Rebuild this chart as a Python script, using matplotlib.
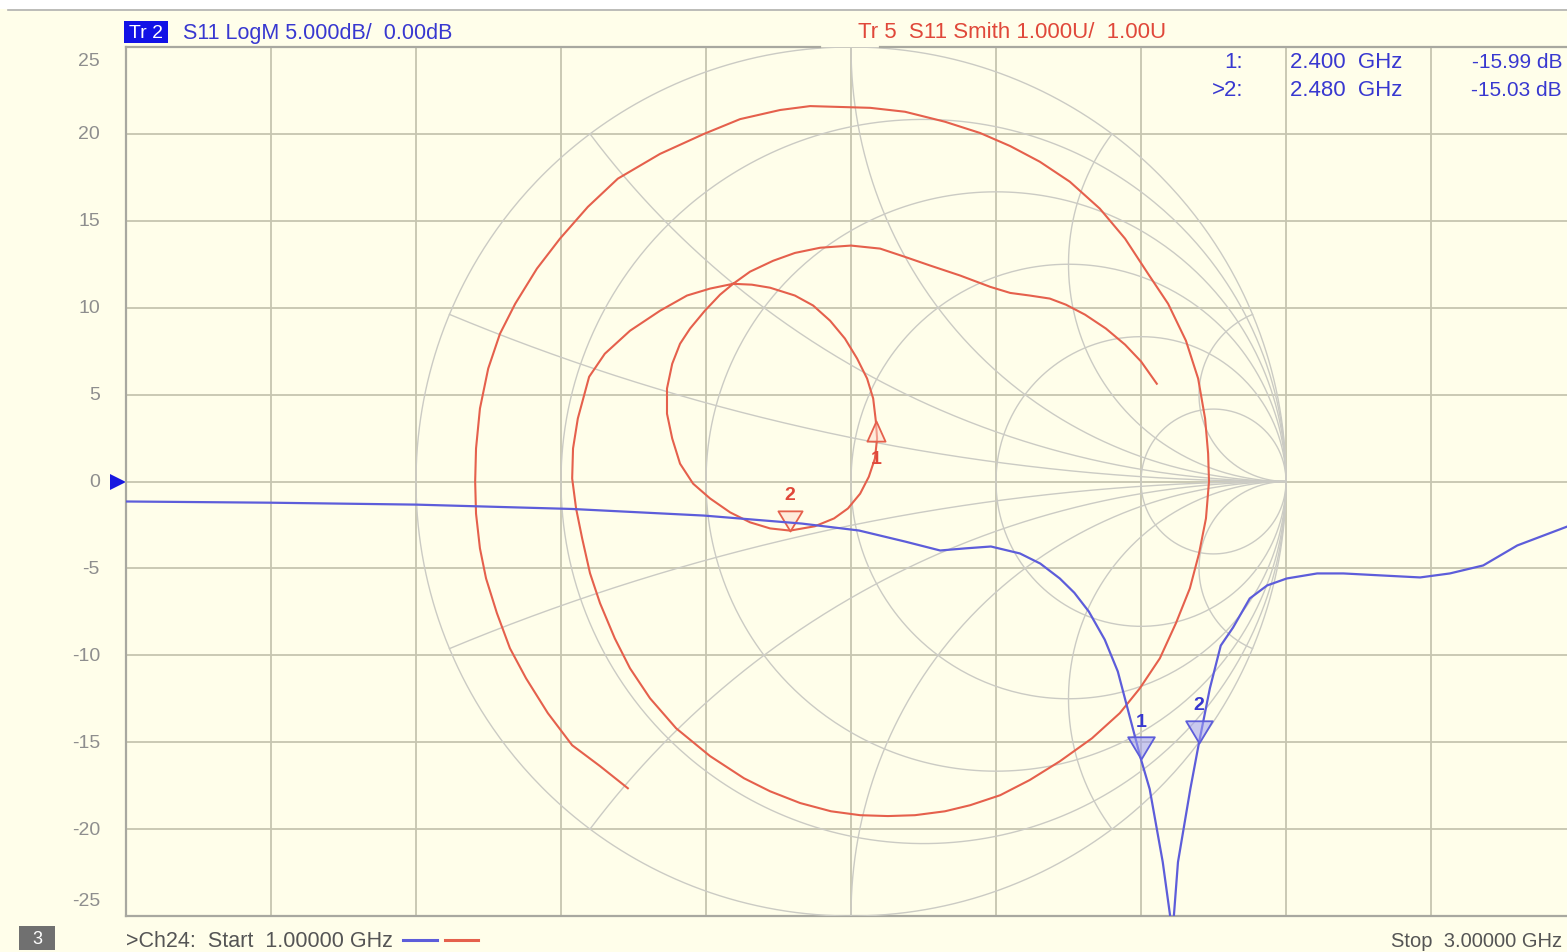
import numpy as np
import matplotlib
matplotlib.use("Agg")
import matplotlib.pyplot as plt
import matplotlib.transforms as mtrans
from matplotlib.path import Path
from matplotlib.lines import Line2D
from matplotlib.patches import Rectangle

# ---------------- data ----------------
freq_ghz = [1.000, 1.200, 1.400, 1.615, 1.797, 1.932, 2.011, 2.074, 2.123, 2.157,
            2.193, 2.233, 2.261, 2.288, 2.308, 2.328, 2.350, 2.368, 2.400, 2.412,
            2.430, 2.4435, 2.451, 2.468, 2.480, 2.495, 2.510, 2.527, 2.550, 2.574,
            2.601, 2.643, 2.679, 2.734, 2.785, 2.826, 2.872, 2.919, 2.988, 3.000]
s11_db = [-1.15, -1.22, -1.33, -1.58, -1.96, -2.42, -2.82, -3.45, -3.97, -3.85,
          -3.74, -4.14, -4.72, -5.58, -6.40, -7.48, -9.10, -10.93, -15.99, -17.7,
          -21.9, -26.0, -21.9, -17.7, -15.03, -11.9, -9.44, -8.4, -6.73, -5.98,
          -5.58, -5.29, -5.29, -5.41, -5.52, -5.29, -4.83, -3.68, -2.59, -2.42]

smith_re = [-0.513, -0.577, -0.641, -0.697, -0.747, -0.784, -0.814, -0.839, -0.853, -0.862,
            -0.864, -0.862, -0.853, -0.834, -0.807, -0.772, -0.722, -0.669, -0.605, -0.536,
            -0.439, -0.338, -0.255, -0.163, -0.094, -0.025, 0.044, 0.124, 0.216, 0.297,
            0.366, 0.434, 0.503, 0.572, 0.630, 0.683, 0.729, 0.770, 0.798, 0.814,
            0.821, 0.823, 0.816, 0.800, 0.779, 0.747, 0.710, 0.664, 0.618, 0.554,
            0.480, 0.411, 0.343, 0.274, 0.216, 0.147, 0.085, 0.021, -0.046, -0.117,
            -0.186, -0.246, -0.324, -0.402, -0.462, -0.508, -0.543, -0.577, -0.600, -0.618,
            -0.632, -0.641, -0.639, -0.628, -0.602, -0.566, -0.508, -0.439, -0.377, -0.324,
            -0.271, -0.228, -0.186, -0.129, -0.087, -0.048, -0.014, 0.014, 0.037, 0.051,
            0.057, 0.060, 0.055, 0.041, 0.021, -0.007, -0.039, -0.083, -0.140, -0.186,
            -0.232, -0.278, -0.324, -0.363, -0.393, -0.411, -0.423, -0.423, -0.411, -0.393,
            -0.370, -0.336, -0.301, -0.271, -0.232, -0.179, -0.129, -0.071, 0.000, 0.067,
            0.124, 0.182, 0.251, 0.320, 0.366, 0.411, 0.457, 0.494, 0.538, 0.586,
            0.630, 0.667, 0.703]
smith_im = [-0.706, -0.655, -0.607, -0.533, -0.453, -0.384, -0.303, -0.223, -0.154, -0.074,
            0.000, 0.076, 0.168, 0.260, 0.340, 0.409, 0.490, 0.559, 0.632, 0.697,
            0.754, 0.800, 0.834, 0.855, 0.864, 0.862, 0.860, 0.851, 0.828, 0.802,
            0.772, 0.736, 0.690, 0.628, 0.559, 0.478, 0.409, 0.324, 0.237, 0.145,
            0.064, 0.000, -0.085, -0.166, -0.246, -0.326, -0.407, -0.476, -0.533, -0.591,
            -0.644, -0.687, -0.722, -0.745, -0.759, -0.768, -0.770, -0.768, -0.759, -0.740,
            -0.713, -0.683, -0.632, -0.568, -0.499, -0.430, -0.361, -0.280, -0.211, -0.131,
            -0.062, 0.007, 0.076, 0.145, 0.241, 0.294, 0.347, 0.393, 0.428, 0.444,
            0.455, 0.453, 0.446, 0.428, 0.405, 0.370, 0.329, 0.283, 0.237, 0.191,
            0.140, 0.099, 0.053, 0.011, -0.028, -0.062, -0.085, -0.103, -0.113, -0.108,
            -0.094, -0.071, -0.039, -0.005, 0.041, 0.099, 0.156, 0.214, 0.271, 0.317,
            0.352, 0.393, 0.430, 0.455, 0.483, 0.508, 0.526, 0.538, 0.543, 0.536,
            0.517, 0.497, 0.474, 0.448, 0.434, 0.428, 0.421, 0.407, 0.384, 0.352,
            0.315, 0.276, 0.225]

marker_ids = ["1", "2"]
marker_freq = [2.400, 2.480]
marker_db = [-15.99, -15.03]
marker_freq_text = ["2.400  GHz", "2.480  GHz"]
marker_val_text = ["-15.99 dB", "-15.03 dB"]
marker_smith_re = [0.057, -0.140]
marker_smith_im = [0.140, -0.113]

y_ticks = [25, 20, 15, 10, 5, 0, -5, -10, -15, -20, -25]
f_start, f_stop = 1.0, 3.0
db_top, db_bottom = 25, -25

smith_r = [0, 0.2, 0.5, 1, 2, 5]
smith_x = [0.2, 0.5, 1, 2, 5]

# ---------------- style ----------------
W, H = 1567, 953
BG = "#fffeea"
GRID = "#c6c5b0"
SGRID = "#cbcbc4"
BLUE = "#5d5dda"
RED = "#e5604c"
TXTBLUE = "#3838d0"
TXTRED = "#e0483a"
GRAYTXT = "#8e8e8e"
FONT = ["Liberation Sans", "DejaVu Sans"]
plt.rcParams["font.family"] = FONT

fig = plt.figure(figsize=(W / 100, H / 100), dpi=100)
fig.patch.set_facecolor(BG)


def pos(x0, y0, x1, y1):
    return [x0 / W, 1 - y1 / H, (x1 - x0) / W, (y1 - y0) / H]


def ft(x, y, s, **kw):
    kw.setdefault("va", "center")
    return fig.text(x / W, 1 - y / H, s, **kw)


def fline(x0, y0, x1, y1, **kw):
    fig.add_artist(Line2D([x0 / W, x1 / W], [1 - y0 / H, 1 - y1 / H],
                          transform=fig.transFigure, **kw))


# white strip at very top
fig.add_artist(Rectangle((0, 1 - 10 / H), 1, 10 / H, transform=fig.transFigure,
                         facecolor="white", edgecolor="none"))
fline(8, 10.5, W, 10.5, color="#b0b0b0", lw=1.2)

# ---------------- rectangular (LogM) axes ----------------
ax = fig.add_axes(pos(126, 48, 1576, 917))
ax.set_facecolor(BG)
ax.set_xlim(f_start, f_stop)
ax.set_ylim(db_bottom, db_top)
ax.set_xticks(np.linspace(f_start, f_stop, 11))
ax.set_yticks(y_ticks)
ax.tick_params(length=0, labelbottom=False, labelleft=False)
ax.grid(True, color=GRID, lw=1.3)
ax.set_axisbelow(True)
for s in ["top", "right"]:
    ax.spines[s].set_visible(False)
for s in ["left", "bottom"]:
    ax.spines[s].set_color("#a8a8a0")
    ax.spines[s].set_linewidth(1.6)

# top header separator (with small gap above the Smith chart top)
fline(126, 48, 820, 48, color="#a8a8a0", lw=1.6)
fline(880, 48, W, 48, color="#a8a8a0", lw=1.6)

# y tick labels (the end labels sit inside the frame, as on the instrument)
ytr = ax.get_yaxis_transform()
for v in y_ticks:
    yy = v
    if v == db_top:
        yy = v - 0.8
    elif v == db_bottom:
        yy = v + 0.9
    ax.text(-0.018, yy, f"{v}", transform=ytr, ha="right", va="center",
            fontsize=14, color=GRAYTXT, clip_on=False)

# reference level arrow
ref, = ax.plot([f_start], [0], marker=">", ms=11, color="#1818e0", clip_on=False,
               markeredgewidth=0)
ref.set_transform(ax.transData + mtrans.ScaledTranslation(-8 / 100, 0, fig.dpi_scale_trans))

# ---------------- Smith overlay ----------------
ax2 = fig.add_axes(pos(126, 48, 1576, 917))
ax2.set_xlim(-1450 / 870, 1450 / 870)
ax2.set_ylim(-1, 1)
ax2.patch.set_alpha(0)
ax2.axis("off")


def gam(z):
    return (z - 1) / (z + 1)


xs = np.concatenate([-np.logspace(3, -3, 600), [0], np.logspace(-3, 3, 600)])
for r in smith_r:
    g = gam(r + 1j * xs)
    ax2.plot(g.real, g.imag, color=SGRID, lw=1.0, zorder=1)
rs = np.concatenate([[0], np.logspace(-3, 3, 900)])
for xv in smith_x:
    for sgn in (1, -1):
        g = gam(rs + 1j * sgn * xv)
        ax2.plot(g.real, g.imag, color=SGRID, lw=1.0, zorder=1)

# red Smith trace
ax2.plot(smith_re, smith_im, color=RED, lw=1.5, zorder=3, solid_joinstyle="round")


def tri_marker(up):
    if up:
        verts = [(0, 0), (-0.45, -1), (0.45, -1), (0, 0)]
    else:
        verts = [(0, 0), (-0.6, 1), (0.6, 1), (0, 0)]
    return Path(verts, [Path.MOVETO, Path.LINETO, Path.LINETO, Path.CLOSEPOLY])


# red markers: 1 points up (label below), 2 points down (label above)
for i, mid in enumerate(marker_ids):
    up = (i == 0)
    ax2.plot([marker_smith_re[i]], [marker_smith_im[i]], marker=tri_marker(up), ms=29,
             markerfacecolor=(1, 0.85, 0.8, 0.5), markeredgecolor=RED, mew=1.3,
             linestyle="none", zorder=4)
    dy = -38 if up else 36
    ax2.annotate(mid, (marker_smith_re[i], marker_smith_im[i]), xytext=(0, dy),
                 textcoords="offset pixels", ha="center", va="center",
                 fontsize=14, color=TXTRED, fontweight="bold", zorder=5)

# blue trace on top
ax3 = fig.add_axes(pos(126, 48, 1576, 917))
ax3.set_xlim(f_start, f_stop)
ax3.set_ylim(db_bottom, db_top)
ax3.patch.set_alpha(0)
ax3.axis("off")
ax3.plot(freq_ghz, s11_db, color=BLUE, lw=1.6, zorder=3, solid_joinstyle="round")
for i, mid in enumerate(marker_ids):
    ax3.plot([marker_freq[i]], [marker_db[i]], marker=tri_marker(False), ms=32,
             markerfacecolor=(0.62, 0.62, 0.95, 0.55), markeredgecolor=BLUE, mew=1.3,
             linestyle="none", zorder=4)
    ax3.annotate(mid, (marker_freq[i], marker_db[i]), xytext=(0, 38),
                 textcoords="offset pixels", ha="center", va="center",
                 fontsize=14, color=TXTBLUE, fontweight="bold", zorder=5)

# ---------------- header ----------------
fig.add_artist(Rectangle((124 / W, 1 - 44 / H), 44 / W, 22 / H, transform=fig.transFigure,
                         facecolor="#1212e6", edgecolor="none"))
ft(146, 33, "Tr 2", color="white", fontsize=14, ha="center")
ft(183, 33, "S11 LogM 5.000dB/  0.00dB", color=TXTBLUE, fontsize=15.5)
ft(858, 33, "Tr 5  S11 Smith 1.000U/  1.00U", color=TXTRED, fontsize=16)

# marker table
for i in range(2):
    yy = 63 + 28 * i
    ft(1243, yy, (">" if i == 1 else "") + marker_ids[i] + ":", color=TXTBLUE,
       fontsize=16, ha="right")
    ft(1290, yy, marker_freq_text[i], color=TXTBLUE, fontsize=16)
    ft(1562, yy, marker_val_text[i], color=TXTBLUE, fontsize=15, ha="right")

# ---------------- footer ----------------
fig.add_artist(Rectangle((19 / W, 1 - 951 / H), 36 / W, 24 / H, transform=fig.transFigure,
                         facecolor="#707070", edgecolor="none"))
ft(37, 940, "3", color="white", fontsize=13, ha="center")
ft(126, 942, ">Ch24:  Start  1.00000 GHz", color="#555555", fontsize=15.5)
fline(403, 941, 437, 941, color=BLUE, lw=2.2)
fline(445, 941, 478, 941, color=RED, lw=2.2)
ft(1562, 942, "Stop  3.00000 GHz", color="#555555", fontsize=14.5, ha="right")

fig.savefig("out.png", dpi=100, facecolor=BG)
